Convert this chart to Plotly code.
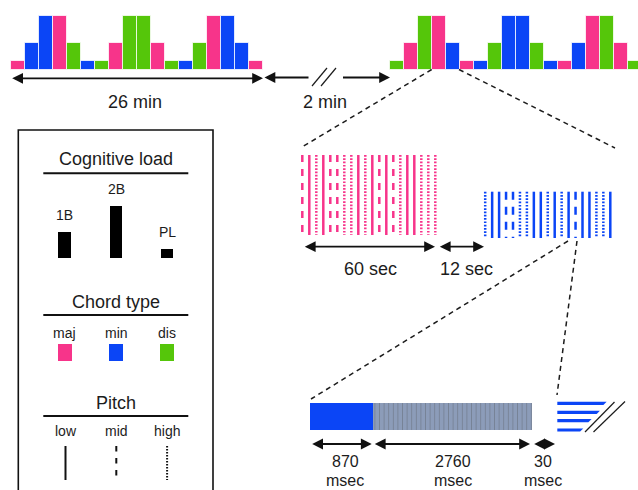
import plotly.graph_objects as go

# ---------------- data ----------------
CHORD_TYPES = ["maj", "min", "dis"]
CHORD_COLORS = ["#F7348A", "#0B45F6", "#55C60A"]
LOAD_LEVELS = ["1B", "2B", "PL"]
LOAD_HEIGHTS = [3, 6, 1]
PITCHES = ["low", "mid", "high"]

block1_chords = ["maj", "min", "min", "maj", "dis", "min", "dis", "maj", "dis",
                 "dis", "maj", "dis", "min", "dis", "maj", "min", "min", "maj"]
block1_loads = ["PL", "1B", "2B", "2B", "1B", "PL", "PL", "1B", "2B",
                "2B", "1B", "PL", "PL", "1B", "2B", "2B", "1B", "PL"]
block2_chords = ["dis", "maj", "dis", "maj", "min", "maj", "min", "dis", "min",
                 "min", "dis", "min", "maj", "min", "maj", "dis", "maj", "dis"]
block2_loads = ["PL", "1B", "2B", "2B", "1B", "PL", "PL", "1B", "2B",
                "2B", "1B", "PL", "PL", "1B", "2B", "2B", "1B", "PL"]

maj_block_pitches = ["mid", "low", "high", "low", "mid", "mid", "high", "high", "low", "high",
                     "low", "mid", "low", "mid", "high", "low", "low", "high", "high", "high"]
min_block_pitches = ["high", "low", "low", "mid", "mid", "high", "high", "low", "low", "high",
                     "low", "high", "low", "mid", "low", "low", "high", "high", "low"]

interval_labels = ["26 min", "2 min", "60 sec", "12 sec"]
segment_values = ["870", "2760", "30"]
segment_unit = "msec"

# ---------------- helpers ----------------
chord_col = dict(zip(CHORD_TYPES, CHORD_COLORS))
load_h = dict(zip(LOAD_LEVELS, LOAD_HEIGHTS))
FONT = "Liberation Sans, Arial, Helvetica, sans-serif"
TXT = "#1c1c1c"

fig = go.Figure()

BAR_W = 14.0
TOP_BASE = 69.5
TOP_UNIT = 9.0


def block_trace(chords, loads, x0):
    n = len(chords)
    xs = [x0 + BAR_W * (i + 0.5) for i in range(n)]
    return go.Bar(x=xs, y=[-TOP_UNIT * load_h[l] for l in loads], base=[TOP_BASE] * n,
                  width=BAR_W, marker=dict(color=[chord_col[c] for c in chords],
                                           line=dict(color="rgba(255,255,255,0.75)", width=1)),
                  hoverinfo="skip")


fig.add_trace(block_trace(block1_chords, block1_loads, 10.7))
fig.add_trace(block_trace(block2_chords, block2_loads, 390.0))


def stripe_traces(pitches, x0, dx, ytop, ybot, color, dashes, width=2.5):
    out = []
    for p in PITCHES:
        xs, ys = [], []
        for i, q in enumerate(pitches):
            if q == p:
                x = x0 + i * dx
                xs += [x, x, None]
                ys += [ytop, ybot, None]
        out.append(go.Scatter(x=xs, y=ys, mode="lines", hoverinfo="skip",
                              line=dict(color=color, width=width, dash=dashes[p])))
    return out


for t in stripe_traces(maj_block_pitches, 302.3, 7.0, 155, 235, chord_col["maj"],
                       {"low": "solid", "mid": "7px,7px", "high": "1.7px,1.6px"}):
    fig.add_trace(t)
for t in stripe_traces(min_block_pitches, 485.2, 6.95, 191.7, 238, chord_col["min"],
                       {"low": "solid", "mid": "8px,7px", "high": "1.7px,1.6px"}):
    fig.add_trace(t)

# legend: cognitive load bars
LEG_X = [64.5, 116.0, 167.0]
LEG_BASE = 257.7
LEG_UNIT = 8.7
fig.add_trace(go.Bar(x=LEG_X, y=[-LEG_UNIT * h for h in LOAD_HEIGHTS], base=[LEG_BASE] * 3,
                     width=12.7, marker=dict(color="black", line=dict(width=0)), hoverinfo="skip"))
# legend: chord colour squares
fig.add_trace(go.Bar(x=LEG_X, y=[16.7] * 3, base=[344.0] * 3, width=14,
                     marker=dict(color=CHORD_COLORS, line=dict(width=0)), hoverinfo="skip"))
# legend: pitch lines
for t in stripe_traces(PITCHES, 65.5, 50.8, 446, 480, "#111111",
                       {"low": "solid", "mid": "5.5px,6.5px", "high": "1.5px,1.5px"}, width=2):
    fig.add_trace(t)

# bottom: one chord stimulus + silence
fig.add_trace(go.Bar(orientation="h", y=[416.7, 416.7], x=[62.7, 159.6], base=[310.0, 372.7],
                     width=26.7, marker=dict(color=["#0B45F6", "#8C9CB9"], line=dict(width=0),
                                             pattern=dict(shape=["", "|"], size=4.6, solidity=0.12,
                                                          fgcolor="#8697B4")),
                     hoverinfo="skip"))

shapes = []
ann = []


def dline(x0, y0, x1, y1):
    shapes.append(dict(type="line", x0=x0, y0=y0, x1=x1, y1=y1, xref="x", yref="y",
                       line=dict(color=TXT, width=1.5, dash="5px,4px")))


def sline(x0, y0, x1, y1, w=1.4, col=TXT):
    shapes.append(dict(type="line", x0=x0, y0=y0, x1=x1, y1=y1, xref="x", yref="y",
                       line=dict(color=col, width=w)))


def arrow(x0, x1, y, side="end+start"):
    ann.append(dict(x=x1, y=y, ax=x0, ay=y, xref="x", yref="y", axref="x", ayref="y",
                    text="", showarrow=True, arrowhead=2, arrowsize=1.2, arrowwidth=1.8,
                    arrowcolor="#111111", arrowside=side, standoff=0, startstandoff=0))


def text(x, y, s, size=18):
    ann.append(dict(x=x, y=y, xref="x", yref="y", text=s, showarrow=False,
                    font=dict(family=FONT, size=size, color=TXT), xanchor="center", yanchor="middle"))


# top arrows
arrow(10.7, 263.0, 78.3)
arrow(310.0, 264.5, 77.5, side="end")
arrow(341.5, 390.0, 77.5, side="end")
sline(312, 86, 327, 68, w=1.2)
sline(321, 86, 336, 68, w=1.2)
text(135, 102, interval_labels[0])
text(325, 102, interval_labels[1])

# zoom connectors
dline(431.7, 69.5, 302, 147)
dline(459, 69.5, 615, 148)
dline(568, 241, 311, 399)
dline(577, 241, 557, 395)

# sec arrows
arrow(303.3, 435.0, 246.7)
arrow(438.3, 484.0, 246.7)
text(370, 268.5, interval_labels[2])
text(466.7, 268.5, interval_labels[3])

# msec arrows
arrow(310.7, 371.7, 444)
arrow(373.3, 530.0, 444)
arrow(532.7, 555.0, 444)
for xc, s in zip([345, 453.3, 543.3], segment_values):
    text(xc, 461, s, size=16)
    text(xc, 480, segment_unit, size=16)

# next-chord lines with slanted ends + break marks
for yc, xe in zip([403.3, 412.3, 420.7, 430.0], [605, 598.3, 590, 581.7]):
    shapes.append(dict(type="path", xref="x", yref="y",
                       path=f"M557.3,{yc-1.6} L{xe+1.6},{yc-1.6} L{xe-1.6},{yc+1.6} L557.3,{yc+1.6} Z",
                       fillcolor="#0B45F6", line=dict(width=0)))
sline(585, 432, 614.5, 402, w=1.2)
sline(593.5, 432, 625, 401.5, w=1.2)

# legend box
shapes.append(dict(type="rect", xref="x", yref="y", x0=18.3, y0=130, x1=213, y1=500,
                   line=dict(color="#111111", width=1.6), fillcolor="rgba(0,0,0,0)"))
for title, ty, uy in [("Cognitive load", 159, 173.3), ("Chord type", 301.7, 315), ("Pitch", 403.3, 416)]:
    text(115.5, ty, title, size=18)
    sline(43.3, uy, 188.3, uy, w=2, col="#111111")

for xc, lab, h in zip(LEG_X, LOAD_LEVELS, LOAD_HEIGHTS):
    text(xc, LEG_BASE - LEG_UNIT * h - 17, lab, size=14)
for xc, lab in zip(LEG_X, CHORD_TYPES):
    text(xc, 332.7, lab, size=14)
for xc, lab in zip([65.5, 116.3, 167.1], PITCHES):
    text(xc, 430.5, lab, size=14)

fig.update_layout(
    width=638, height=490, margin=dict(l=0, r=0, t=0, b=0),
    paper_bgcolor="white", plot_bgcolor="white", showlegend=False,
    barmode="overlay", bargap=0,
    xaxis=dict(range=[0, 638], visible=False, fixedrange=True),
    yaxis=dict(range=[490, 0], visible=False, fixedrange=True),
    shapes=shapes, annotations=ann,
)

fig.write_html("out.html", config={"displayModeBar": False},
               post_script="document.body.style.margin='0';")
